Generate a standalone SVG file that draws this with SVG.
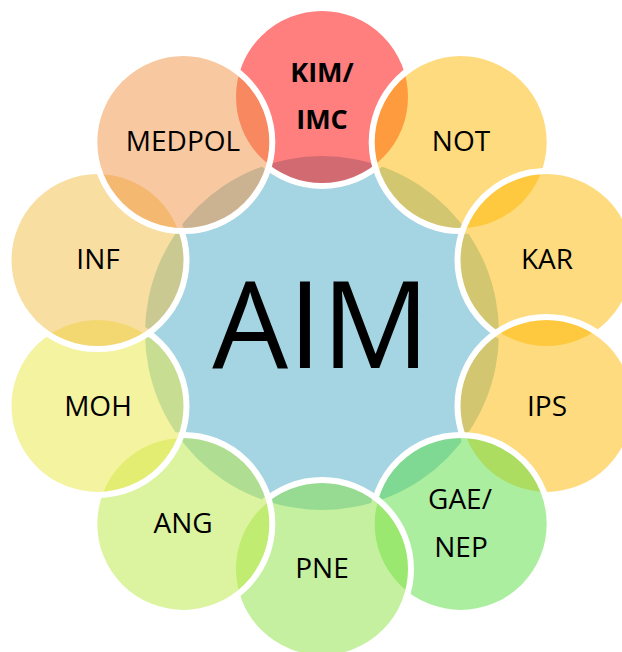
<svg xmlns="http://www.w3.org/2000/svg" width="622" height="652" viewBox="0 0 622 652">
<style>
.c{stroke:#fff;stroke-width:6;fill-opacity:0.5}
.t{font-family:"Open Sans","Noto Sans",sans-serif;font-size:28px;fill:#000;text-anchor:middle}
.b{font-weight:bold;font-size:27px}
.hub{font-family:"Open Sans","Noto Sans",sans-serif;font-size:120px;fill:#000;text-anchor:middle}
</style>
<rect width="622" height="652" fill="#fff"/>
<g id="AIM">
<circle cx="322" cy="333" r="177" fill="#A5D5E2"/>
<text class="hub" x="321" y="368">AIM</text>
</g>
<g id="KIM">
<circle class="c" cx="322" cy="97" r="89" fill="#FF0000"/>
<text class="t b" x="322" y="82">KIM/</text>
<text class="t b" x="322" y="129">IMC</text>
</g>
<g id="NOT">
<circle class="c" cx="460.7" cy="142.1" r="89" fill="#FFB700"/>
<text class="t" x="461" y="151">NOT</text>
</g>
<g id="KAR">
<circle class="c" cx="546.5" cy="260.1" r="89" fill="#FFB700"/>
<text class="t" x="547" y="269">KAR</text>
</g>
<g id="IPS">
<circle class="c" cx="546.5" cy="405.9" r="89" fill="#FFB700"/>
<text class="t" x="547" y="416">IPS</text>
</g>
<g id="GAE">
<circle class="c" cx="460.7" cy="523.9" r="89" fill="#59DD41"/>
<text class="t" x="460" y="509">GAE/</text>
<text class="t" x="461" y="557">NEP</text>
</g>
<g id="PNE">
<circle class="c" cx="322" cy="569" r="89" fill="#89E141"/>
<text class="t" x="322" y="578">PNE</text>
</g>
<g id="ANG">
<circle class="c" cx="183.3" cy="523.9" r="89" fill="#B9E741"/>
<text class="t" x="183" y="533">ANG</text>
</g>
<g id="MOH">
<circle class="c" cx="97.5" cy="405.9" r="89" fill="#E9E741"/>
<text class="t" x="98" y="416">MOH</text>
</g>
<g id="INF">
<circle class="c" cx="97.5" cy="260.1" r="89" fill="#F1BD41"/>
<text class="t" x="98" y="269">INF</text>
</g>
<g id="MEDPOL">
<circle class="c" cx="183.3" cy="142.1" r="89" fill="#F19141"/>
<text class="t" x="183" y="151">MEDPOL</text>
</g>
<g id="connectors"/>
</svg>
